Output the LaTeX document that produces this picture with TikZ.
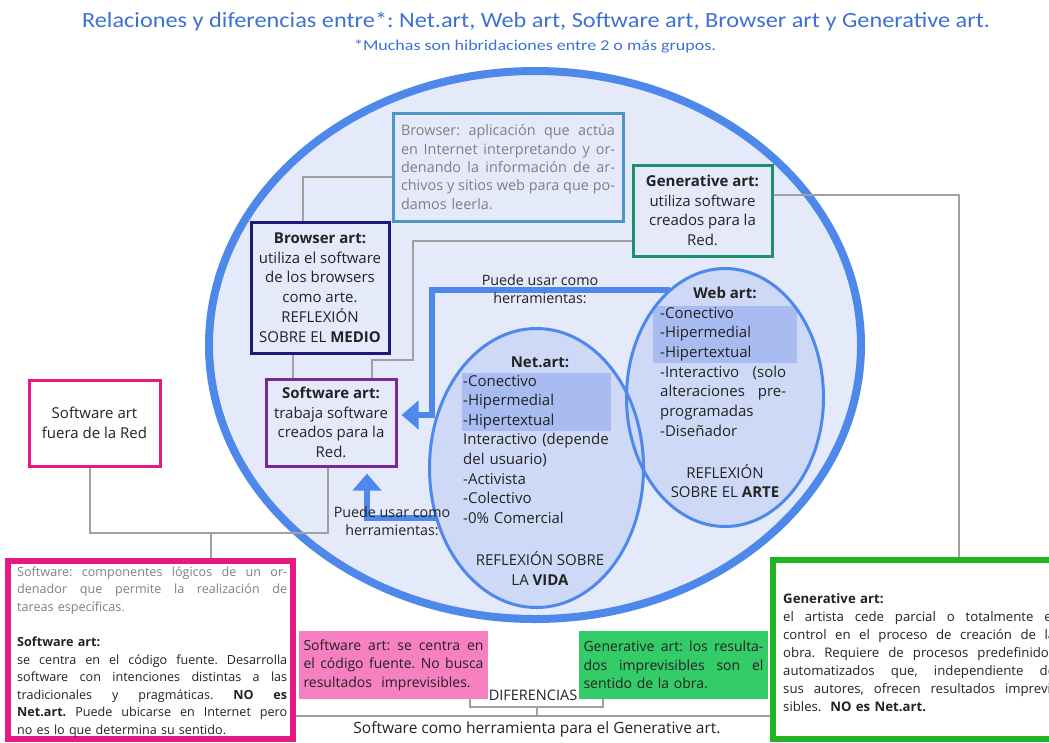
\documentclass[tikz,border=0pt]{standalone}
\usepackage{fontspec}
\setmainfont{Open Sans}
\newfontfamily\titlefont[FakeStretch=1.12]{Carlito}
\newfontfamily\subfont[FakeStretch=1.2]{Carlito}
\usetikzlibrary{shapes.geometric,arrows.meta}

\definecolor{titleblue}{RGB}{62,112,214}
\definecolor{ring}{RGB}{77,136,234}
\definecolor{bg}{RGB}{228,234,250}
\definecolor{innerbg}{RGB}{206,217,247}
\definecolor{hilite}{RGB}{168,188,242}
\definecolor{linegray}{RGB}{160,160,160}
\definecolor{txtgray}{RGB}{128,128,128}
\definecolor{brwblue}{RGB}{78,150,196}
\definecolor{teal}{RGB}{30,145,108}
\definecolor{navy}{RGB}{30,25,120}
\definecolor{purp}{RGB}{120,40,150}
\definecolor{magenta}{RGB}{230,25,130}
\definecolor{pinkfill}{RGB}{246,128,192}
\definecolor{greenfill}{RGB}{52,204,104}
\definecolor{gborder}{RGB}{32,180,32}
\definecolor{ink}{RGB}{35,35,35}

\newcommand\fs[2]{\fontsize{#1}{#2}\selectfont\frenchspacing}
% a justified line filling the width of the text block (stretchable spaces)
\newcommand\jl[1]{\leavevmode\hbox to \hsize{\spaceskip=0pt\xspaceskip=0pt\relax #1}}

\begin{document}
\begin{tikzpicture}[x=1pt,y=-1pt,
  link/.style={draw=linegray, line width=2pt},
  barrow/.style={draw=ring, line width=6pt, line join=miter,
    -{Triangle[length=17pt,width=28pt]}},
  cbox/.style={rectangle, draw, line width=3pt, fill=bg, inner sep=0pt,
    align=center, text=ink, font=\fs{15}{19.7}},
  jtext/.style={inner sep=0pt, align=left, anchor=base west, text=ink},
  lbl/.style={inner sep=0pt, align=center, text=ink, font=\fs{14.3}{18}},
  inring/.style={draw=ring, line width=3pt},
]
\useasboundingbox (0,0) rectangle (1049,742);
\clip (0,0) rectangle (1049,742);

% headings
\node[text=titleblue, font=\titlefont\fs{21.7}{24}] (title) at (536,22)
  {Relaciones y diferencias entre*: Net.art, Web art, Software art, Browser art y Generative art.};
\node[text=titleblue, font=\subfont\fs{15}{17}] (subtitle) at (535,46)
  {*Muchas son hibridaciones entre 2 o más grupos.};

% the large ellipse
\node[ellipse, draw=ring, line width=8pt, fill=bg, inner sep=0pt,
  minimum width=652pt, minimum height=548pt] (big) at (535,345) {};

% Web art and Net.art ellipses: fills, highlights, then outlines
\node[ellipse, fill=innerbg, inner sep=0pt, minimum width=197pt, minimum height=258pt] (web) at (725,397.5) {};
\node[ellipse, fill=innerbg, inner sep=0pt, minimum width=214pt, minimum height=279pt] (net) at (536.5,468) {};
\fill[hilite] (653,306) rectangle (797,363);
\fill[hilite] (462,373) rectangle (611,431);
\draw[inring] (web.center) ellipse [x radius=98.5, y radius=129];
\draw[inring] (net.center) ellipse [x radius=107, y radius=139.5];

% Net.art text
\node[inner sep=0pt, text=ink, font=\fs{15}{19.6}\bfseries] (nettitle) at (540,362) {Net.art:};
\node[jtext, text width=152pt, font=\fs{15}{19.6}] (netlist) at (463,386)
  {-Conectivo\\ -Hipermedial\\ -Hipertextual\\ Interactivo (depende\\ del usuario)\\ -Activista\\ -Colectivo\\ -0\% Comercial};
\node[lbl, font=\fs{15}{19.6}] (netrefl) at (540,568.5) {REFLEXIÓN SOBRE\\ LA \textbf{VIDA}};

% Web art text
\node[inner sep=0pt, text=ink, font=\fs{15}{19.6}\bfseries] (webtitle) at (725,293) {Web art:};
\node[jtext, text width=126pt, font=\fs{15}{19.7}] (weblist) at (660,318)
  {-Conectivo\\ -Hipermedial\\ -Hipertextual\\ \jl{-Interactivo (solo}\\ \jl{alteraciones pre-}\\ programadas\\ -Diseñador};
\node[lbl, font=\fs{15}{19.6}] (webrefl) at (725,481) {REFLEXIÓN\\ SOBRE EL \textbf{ARTE}};

% boxes inside the ellipse
\node[rectangle, draw=brwblue, line width=3pt, fill=bg, inner xsep=8pt, inner ysep=0pt,
  minimum height=108pt, text width=214pt, align=left, text=txtgray, font=\fs{14.4}{18.3}] (brw) at (508,167)
  {\jl{Browser: aplicación que actúa}\\ \jl{en Internet interpretando y or-}\\ \jl{denando la información de ar-}\\ \jl{chivos y sitios web para que po-}\\ damos leerla.};
\node[cbox, draw=teal, minimum width=139pt, minimum height=91pt] (gsm) at (702.5,210.5)
  {\textbf{Generative art:}\\ utiliza software\\ creados para la\\ Red.};
\node[cbox, draw=navy, minimum width=138pt, minimum height=131pt] (bart) at (320,287.5)
  {\textbf{Browser art:}\\ utiliza el software\\ de los browsers\\ como arte.\\ REFLEXIÓN\\ SOBRE EL \textbf{MEDIO}};
\node[cbox, draw=purp, minimum width=130pt, minimum height=87pt] (sw) at (331,422.5)
  {\textbf{Software art:}\\ trabaja software\\ creados para la\\ Red.};

% boxes outside the ellipse
\node[cbox, draw=magenta, fill=white, minimum width=131pt, minimum height=86pt] (fuera) at (94.5,423)
  {Software art\\ fuera de la Red};
\node[rectangle, draw=magenta, line width=6pt, fill=white, inner sep=0pt,
  minimum width=285pt, minimum height=178pt] (mag) at (150.5,650) {};
\node[rectangle, draw=gborder, line width=6pt, fill=white, inner sep=0pt,
  minimum width=320pt, minimum height=179pt] (ggen) at (933,649.5) {};
\node[rectangle, fill=pinkfill, inner xsep=4.5pt, inner ysep=0pt, minimum height=68pt,
  text width=180pt, align=left, text=ink, font=\fs{14}{18.5}] (pink) at (393.5,665)
  {\jl{Software art: se centra en}\\ \jl{el código fuente. No busca}\\ resultados\ \ imprevisibles.};
\node[rectangle, fill=greenfill, inner xsep=4.5pt, inner ysep=0pt, minimum height=68pt,
  text width=180pt, align=left, text=ink, font=\fs{14}{18.5}] (grn) at (673.5,665)
  {\jl{Generative art: los resulta-}\\ \jl{dos imprevisibles son el}\\ sentido de la obra.};

% texts of the two large boxes
\node[jtext, text width=270pt, font=\fs{12.6}{17.6}] (magtxt) at (17,576)
  {\textcolor{txtgray}{\jl{Software: componentes lógicos de un or-}}\\
   \textcolor{txtgray}{\jl{denador que permite la realización de}}\\
   \textcolor{txtgray}{tareas específicas.}\\ \mbox{}\\
   \textbf{Software art:}\\
   \jl{se centra en el código fuente. Desarrolla}\\
   \jl{software con intenciones distintas a las}\\
   \jl{tradicionales y pragmáticas. \textbf{NO es}}\\
   \jl{\textbf{Net.art.} Puede ubicarse en Internet pero}\\
   no es lo que determina su sentido.};
\node[jtext, text width=272pt, font=\fs{13.2}{18.1}] (ggentxt) at (783,603)
  {\textbf{Generative art:}\\
   \jl{el artista cede parcial o totalmente el}\\
   \jl{control en el proceso de creación de la}\\
   \jl{obra. Requiere de procesos predefinidos}\\
   \jl{automatizados que, independiente de}\\
   \jl{sus autores, ofrecen resultados imprevi-}\\
   sibles.\ \ \textbf{NO es Net.art.}};

% grey connectors
\coordinate (k1) at (413,360);
\coordinate (j1) at (211,533);
\coordinate (j2) at (537,716);
\coordinate (j3) at (537,707);
\draw[link] ([yshift=-10pt]brw.west) -| ([xshift=-17pt]bart.north);
\draw[link] ([xshift=-27pt]bart.south) -- ([xshift=-38pt]sw.north);
\draw[link] ([yshift=-30.5pt]gsm.west) -| (k1) -| ([xshift=41pt]sw.north);
\draw[link] ([yshift=15.5pt]gsm.east) -| ([xshift=189pt]ggen.north west);
\draw[link] ([xshift=-4.5pt]fuera.south) |- (j1) -| ([xshift=-3pt]sw.south);
\draw[link] (j1) -- (j1 |- mag.north);
\draw[link] (mag.east |- j2) -- (ggen.west |- j2);
\draw[link] ([xshift=76.5pt]pink.south) |- (j3) -| ([xshift=-70.5pt]grn.south);
\draw[link] (j3) -- (j2);
\node[lbl, font=\fs{14.5}{18}] (dif) at (533,695) {DIFERENCIAS};
\node[lbl, font=\fs{15.5}{18}] (tool) at (537,729) {Software como herramienta para el Generative art.};

% blue arrows
\coordinate (a1) at (432,290);
\coordinate (a2) at (367,518);
\draw[barrow] (web.117 |- a1) -- (a1) |- ([xshift=4pt,yshift=7.5pt]sw.east);
\draw[barrow] (net.206.6 |- a2) -- (a2) -- ([xshift=36pt,yshift=-6pt]sw.south);
\node[lbl] (use1) at (540,289) {Puede usar como\\ herramientas:};
\node[lbl] (use2) at (392,521) {Puede usar como\\ herramientas:};
\end{tikzpicture}
\end{document}
